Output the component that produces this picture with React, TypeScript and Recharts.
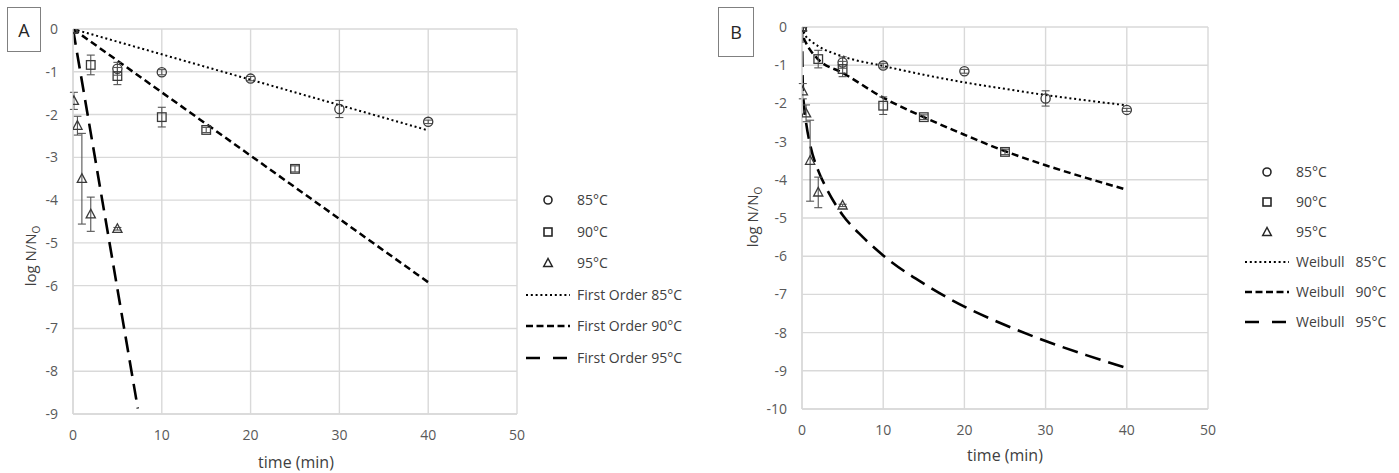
import React from 'react';
import { ComposedChart, Line, Scatter, XAxis, YAxis, CartesianGrid, ErrorBar } from 'recharts';

// ---- experimental data (same in both panels) ----
const time85 = [0, 5, 10, 20, 30, 40];
const logN85 = [0, -0.93, -1.01, -1.16, -1.87, -2.17];
const err85 = [0, 0.15, 0.06, 0.05, 0.2, 0.04];

const time90 = [0, 2, 5, 10, 15, 25];
const logN90 = [0, -0.84, -1.1, -2.06, -2.36, -3.27];
const err90 = [0, 0.23, 0.2, 0.23, 0.06, 0.07];

const time95 = [0, 0.1, 0.5, 1, 2, 5];
const logN95 = [0, -1.68, -2.26, -3.5, -4.33, -4.67];
const err95 = [0, 0.2, 0.22, 1.06, 0.4, 0.03];

// ---- panel A: first order fits ----
const foTime85 = [0, 40];
const foLog85 = [0, -2.37];
const foTime90 = [0, 40];
const foLog90 = [0, -5.92];
const foTime95 = [0, 7.3];
const foLog95 = [0, -8.87];

// ---- panel B: Weibull fits ----
const wTime85 = [0, 0.5, 1, 2, 5, 10, 15, 20, 25, 30, 35, 40];
const wLog85 = [0, -0.25, -0.35, -0.5, -0.77, -1.02, -1.25, -1.45, -1.62, -1.78, -1.92, -2.05];
const wTime90 = [0, 0.25, 0.5, 1, 2, 5, 10, 15, 20, 25, 30, 35, 40];
const wLog90 = [0, -0.3, -0.42, -0.6, -0.85, -1.2, -1.85, -2.36, -2.82, -3.25, -3.62, -3.95, -4.26];
const wTime95 = [0, 0.1, 0.25, 0.5, 1, 2, 3, 5, 7.5, 10, 15, 20, 25, 30, 35, 40];
const wLog95 = [0, -1.58, -2.06, -2.5, -3.08, -3.76, -4.22, -4.92, -5.5, -5.98, -6.72, -7.32, -7.8, -8.22, -8.59, -8.93];

// ---- axis ticks ----
const xTicks = [0, 10, 20, 30, 40, 50];
const yTicksA = [0, -1, -2, -3, -4, -5, -6, -7, -8, -9];
const yTicksB = [0, -1, -2, -3, -4, -5, -6, -7, -8, -9, -10];

const legendA = ['85°C', '90°C', '95°C', 'First Order 85°C', 'First Order 90°C', 'First Order 95°C'];
const legendB = ['85°C', '90°C', '95°C', 'Weibull   85°C', 'Weibull   90°C', 'Weibull   95°C'];

const pts = (ts: number[], ys: number[], es?: number[]) =>
  ts.map((t, i) => ({ t, y: ys[i], e: es ? es[i] : 0 }));

const FONT = '"Open Sans", "Noto Sans", sans-serif';
const MARK = '#3a3a3a';
const GRID = '#d9d9d9';
const TICK = '#595959';
const ERR = '#555555';

const DOT = '2 2.8';
const DASH = '7 4';
const LONG = '16 8';

const CircleShape = (p: any) => (
  <circle cx={p.cx} cy={p.cy} r={4.6} fill="none" stroke={MARK} strokeWidth={1.3} />
);
const SquareShape = (p: any) => (
  <rect x={p.cx - 4.3} y={p.cy - 4.3} width={8.6} height={8.6} fill="none" stroke={MARK} strokeWidth={1.3} />
);
const TriangleShape = (p: any) => (
  <polygon
    points={`${p.cx},${p.cy - 5} ${p.cx - 4.6},${p.cy + 3.6} ${p.cx + 4.6},${p.cy + 3.6}`}
    fill="none"
    stroke={MARK}
    strokeWidth={1.3}
  />
);

type Fit = { ts: number[]; ys: number[]; dash: string; width: number; type: 'linear' | 'monotone' };

function Panel(props: {
  left: number;
  width: number;
  height: number;
  margin: any;
  yWidth: number;
  yDomain: [number, number];
  yTicks: number[];
  fits: Fit[];
}) {
  const { left, width, height, margin, yWidth, yDomain, yTicks, fits } = props;
  const d85 = pts(time85, logN85, err85);
  const d90 = pts(time90, logN90, err90);
  const d95 = pts(time95, logN95, err95);
  return (
    <div style={{ position: 'absolute', left, top: 0 }}>
      <ComposedChart width={width} height={height} margin={margin}>
        <CartesianGrid stroke={GRID} strokeWidth={1.4} />
        <XAxis
          type="number"
          dataKey="t"
          domain={[0, 50]}
          ticks={xTicks}
          allowDataOverflow
          height={31}
          axisLine={{ stroke: GRID, strokeWidth: 1.4 }}
          tickLine={false}
          tickSize={6}
          tickMargin={10}
          tick={{ fill: TICK, fontSize: 14, fontFamily: FONT }}
        />
        <YAxis
          type="number"
          dataKey="y"
          domain={yDomain}
          ticks={yTicks}
          allowDataOverflow
          width={yWidth}
          axisLine={{ stroke: GRID, strokeWidth: 1.4 }}
          tickLine={false}
          tickSize={6}
          tickMargin={9}
          tick={{ fill: TICK, fontSize: 14, fontFamily: FONT }}
        />
        {fits.map((f, i) => (
          <Line
            key={'fit' + i}
            data={pts(f.ts, f.ys)}
            dataKey="y"
            type={f.type}
            stroke="#000"
            strokeWidth={f.width}
            strokeDasharray={f.dash}
            dot={false}
            activeDot={false}
            isAnimationActive={false}
          />
        ))}
        <Scatter data={d85} dataKey="y" shape={CircleShape} isAnimationActive={false}>
          <ErrorBar dataKey="e" direction="y" width={4} stroke={ERR} strokeWidth={1.1} />
        </Scatter>
        <Scatter data={d90} dataKey="y" shape={SquareShape} isAnimationActive={false}>
          <ErrorBar dataKey="e" direction="y" width={4} stroke={ERR} strokeWidth={1.1} />
        </Scatter>
        <Scatter data={d95} dataKey="y" shape={TriangleShape} isAnimationActive={false}>
          <ErrorBar dataKey="e" direction="y" width={4} stroke={ERR} strokeWidth={1.1} />
        </Scatter>
      </ComposedChart>
    </div>
  );
}

function LegendIcon({ kind }: { kind: number }) {
  const w = 46;
  const c = w / 2;
  if (kind === 0) return <svg width={w} height={12}><circle cx={c} cy={6} r={4} fill="none" stroke="#262626" strokeWidth={1.6} /></svg>;
  if (kind === 1) return <svg width={w} height={12}><rect x={c - 4} y={2} width={8} height={8} fill="none" stroke="#262626" strokeWidth={1.6} /></svg>;
  if (kind === 2) return <svg width={w} height={12}><polygon points={`${c},1.5 ${c - 4.3},9.5 ${c + 4.3},9.5`} fill="none" stroke="#262626" strokeWidth={1.5} /></svg>;
  const dash = kind === 3 ? DOT : kind === 4 ? '7 3.5' : '14 13';
  const sw = kind === 3 ? 2 : 2.6;
  return (
    <svg width={w} height={12}>
      <line x1={1} y1={6} x2={w - 1} y2={6} stroke="#000" strokeWidth={sw} strokeDasharray={dash} />
    </svg>
  );
}

function Legend({ left, top, step, labels }: { left: number; top: number; step: number; labels: string[] }) {
  return (
    <div style={{ position: 'absolute', left, top, fontFamily: FONT, fontSize: 14, color: '#404040' }}>
      {labels.map((lab, i) => (
        <div
          key={lab}
          style={{ position: 'absolute', top: i * step - 10, left: 0, height: 20, display: 'flex', alignItems: 'center', whiteSpace: 'pre' }}
        >
          <LegendIcon kind={i} />
          <span style={{ marginLeft: 6, lineHeight: '20px' }}>{lab}</span>
        </div>
      ))}
    </div>
  );
}

function YTitle({ cx, cy }: { cx: number; cy: number }) {
  return (
    <div
      style={{
        position: 'absolute',
        left: cx,
        top: cy,
        transform: 'translate(-50%, -50%) rotate(-90deg)',
        whiteSpace: 'nowrap',
        fontFamily: FONT,
        fontSize: 15,
        color: '#404040',
      }}
    >
      log N/N<sub style={{ fontSize: 10 }}>O</sub>
    </div>
  );
}

function XTitle({ cx, cy }: { cx: number; cy: number }) {
  return (
    <div
      style={{
        position: 'absolute',
        left: cx,
        top: cy,
        transform: 'translate(-50%, -50%)',
        whiteSpace: 'nowrap',
        fontFamily: FONT,
        fontSize: 16,
        color: '#404040',
      }}
    >
      time (min)
    </div>
  );
}

function Tag({ left, top, w, h, text }: { left: number; top: number; w: number; h: number; text: string }) {
  return (
    <div
      style={{
        position: 'absolute',
        left,
        top,
        width: w,
        height: h,
        border: '1px solid #808080',
        boxSizing: 'border-box',
        display: 'flex',
        alignItems: 'center',
        justifyContent: 'center',
        fontFamily: FONT,
        fontSize: 18,
        color: '#262626',
        background: '#fff',
      }}
    >
      {text}
    </div>
  );
}

export default function App() {
  const fitsA: Fit[] = [
    { ts: foTime85, ys: foLog85, dash: DOT, width: 2, type: 'linear' },
    { ts: foTime90, ys: foLog90, dash: DASH, width: 2.5, type: 'linear' },
    { ts: foTime95, ys: foLog95, dash: LONG, width: 2.6, type: 'linear' },
  ];
  const fitsB: Fit[] = [
    { ts: wTime85, ys: wLog85, dash: DOT, width: 2, type: 'monotone' },
    { ts: wTime90, ys: wLog90, dash: DASH, width: 2.5, type: 'monotone' },
    { ts: wTime95, ys: wLog95, dash: LONG, width: 2.6, type: 'monotone' },
  ];
  return (
    <div style={{ position: 'absolute', left: 0, top: 0, width: 1399, height: 473, background: '#fff', overflow: 'hidden' }}>
      <Panel
        left={0}
        width={530}
        height={473}
        margin={{ top: 29, right: 13, bottom: 28, left: 0 }}
        yWidth={73}
        yDomain={[-9, 0]}
        yTicks={yTicksA}
        fits={fitsA}
      />
      <Panel
        left={728}
        width={492}
        height={473}
        margin={{ top: 27, right: 12, bottom: 33, left: 0 }}
        yWidth={74}
        yDomain={[-10, 0]}
        yTicks={yTicksB}
        fits={fitsB}
      />
      <Tag left={7} top={7} w={34} h={45} text="A" />
      <Tag left={718} top={7} w={36} h={50} text="B" />
      <YTitle cx={31} cy={256} />
      <YTitle cx={753} cy={217} />
      <XTitle cx={296} cy={462} />
      <XTitle cx={1005} cy={455} />
      <Legend left={525} top={200} step={31.5} labels={legendA} />
      <Legend left={1244} top={172} step={29.9} labels={legendB} />
    </div>
  );
}
